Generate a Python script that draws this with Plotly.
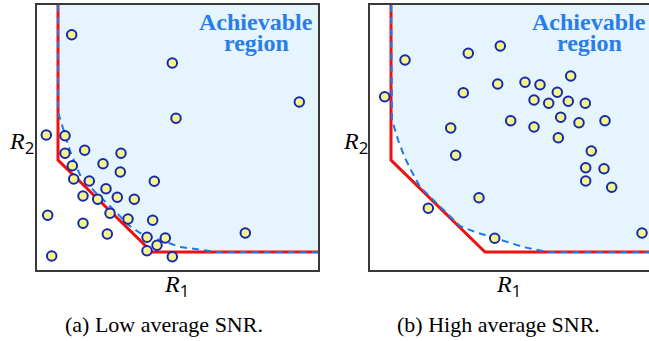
import plotly.graph_objects as go

W, H = 649, 341


def px(x):
    return x / W


def py(y):
    return (H - y) / H


# ---- data (axis units: R1 horizontal, R2 vertical) ----
low_r1 = [34.7, 135.3, 262.3, 139.0, 9.3, 28.0, 28.0, 47.7, 84.0, 35.3, 66.0, 83.3, 36.7, 52.3, 117.3,
          69.0, 46.0, 60.7, 80.3, 97.3, 73.0, 10.7, 46.0, 91.0, 115.7, 70.3, 208.3, 110.0, 128.3, 120.0,
          110.0, 14.7, 135.3]
low_r2 = [235.3, 207.0, 168.0, 151.7, 135.0, 134.3, 116.7, 119.7, 116.7, 104.3, 106.3, 98.0, 91.0, 89.0, 88.7,
          81.3, 74.0, 70.7, 72.7, 70.7, 56.7, 54.7, 46.7, 51.0, 49.7, 36.0, 37.0, 32.7, 32.0, 24.7,
          19.3, 14.0, 13.3]

high_r1 = [35.0, 98.3, 130.3, 14.7, 93.3, 127.7, 155.0, 170.0, 200.7, 187.3, 164.0, 178.7, 198.3, 215.3,
           80.7, 140.7, 164.0, 190.7, 209.0, 235.0, 188.3, 85.7, 221.3, 215.7, 234.0, 215.7, 241.7,
           109.0, 58.3, 124.7, 272.0]
high_r2 = [210.0, 216.7, 224.0, 173.3, 177.3, 186.0, 187.7, 185.3, 194.0, 177.7, 170.0, 166.7, 168.7, 166.7,
           142.0, 149.3, 143.0, 152.7, 147.3, 149.3, 132.3, 114.7, 119.0, 102.3, 101.3, 89.0, 82.7,
           72.3, 61.7, 31.7, 37.0]

# red piecewise-linear boundary
low_red_r1 = [21, 21, 115, 281]
low_red_r2 = [265, 110, 18, 18]
high_red_r1 = [21, 21, 115, 279]
high_red_r2 = [265, 110, 18, 18]

# blue dashed boundary of the achievable region
low_dash_r1 = [21, 21, 25, 33, 43, 58, 80, 90, 103, 120, 143, 166, 178, 281]
low_dash_r2 = [265, 158, 145, 119, 95, 78, 57, 46, 37, 31, 23, 20, 18, 18]
high_dash_r1 = [21, 22, 28, 35, 42, 50, 90, 105, 125, 153, 177, 279]
high_dash_r2 = [265, 150, 130, 112, 98, 83, 44, 38, 32, 23, 18, 18]

RED = "#f01010"
BLUE = "#1f78e6"
FILL = "#e5f4fd"
PT_FILL = "#f5f58c"
PT_LINE = "#1428b0"

fig = go.Figure()

panels = [
    ("x", "y", low_r1, low_r2, low_red_r1, low_red_r2, low_dash_r1, low_dash_r2, 281),
    ("x2", "y2", high_r1, high_r2, high_red_r1, high_red_r2, high_dash_r1, high_dash_r2, 279),
]
for xa, ya, pr1, pr2, rr1, rr2, dr1, dr2, xmax in panels:
    fig.add_trace(go.Scatter(x=dr1 + [xmax, xmax], y=dr2 + [265, 265], mode="lines",
                             fill="toself", fillcolor=FILL, line=dict(width=0),
                             xaxis=xa, yaxis=ya, hoverinfo="skip"))
    fig.add_trace(go.Scatter(x=rr1, y=rr2, mode="lines", line=dict(color=RED, width=3),
                             xaxis=xa, yaxis=ya))
    fig.add_trace(go.Scatter(x=dr1, y=dr2, mode="lines",
                             line=dict(color=BLUE, width=2, dash="7px,5px"),
                             xaxis=xa, yaxis=ya))
    fig.add_trace(go.Scatter(x=pr1, y=pr2, mode="markers",
                             marker=dict(size=9.5, color=PT_FILL, line=dict(color=PT_LINE, width=2)),
                             xaxis=xa, yaxis=ya))

axcommon = dict(showticklabels=False, showgrid=False, zeroline=False, ticks="",
                showline=True, linecolor="#3a3a3a", linewidth=1.5)
ydom = [py(270), py(5)]
fig.update_layout(
    width=W, height=H, margin=dict(l=0, r=0, t=0, b=0),
    paper_bgcolor="white", plot_bgcolor="white", showlegend=False,
    xaxis=dict(domain=[px(37), px(318)], range=[0, 281], mirror=True, **axcommon),
    yaxis=dict(domain=ydom, range=[0, 265], mirror=True, anchor="x", **axcommon),
    xaxis2=dict(domain=[px(370), 1], range=[0, 279], mirror=True, anchor="y2", **axcommon),
    yaxis2=dict(domain=ydom, range=[0, 265], mirror=False, anchor="x2", **axcommon),
)

ann_font = dict(family="Liberation Serif", size=24, color="#2a7de6")
r_font = dict(family="Liberation Serif", size=24, color="black")
sub = '<span style="font-family:Open Sans;font-style:normal">{}</span>'
annotations = []
for xr, yr in (("x", "y"), ("x2", "y2")):
    annotations.append(dict(x=219, y=248, xref=xr, yref=yr, text="<b>Achievable</b>",
                            showarrow=False, font=ann_font, xanchor="center", yanchor="middle"))
    annotations.append(dict(x=219, y=227, xref=xr, yref=yr, text="<b>region</b>",
                            showarrow=False, font=ann_font, xanchor="center", yanchor="middle"))
for xc in (21, 355):
    annotations.append(dict(x=px(xc), y=py(143), xref="paper", yref="paper",
                            text="<i>R</i><sub>" + sub.format("2") + "</sub>",
                            showarrow=False, font=r_font, xanchor="center", yanchor="middle"))
for xc in (176, 508):
    annotations.append(dict(x=px(xc), y=py(286), xref="paper", yref="paper",
                            text="<i>R</i><sub>" + sub.format("1") + "</sub>",
                            showarrow=False, font=r_font, xanchor="center", yanchor="middle"))
cap_font = dict(family="Liberation Serif", size=22, color="black")
for xc, txt in ((164, "(a) Low average SNR."), (498, "(b) High average SNR.")):
    annotations.append(dict(x=px(xc), y=py(324), xref="paper", yref="paper", text=txt,
                            showarrow=False, font=cap_font, xanchor="center", yanchor="middle"))
fig.update_layout(annotations=annotations)

fig.write_html("out.html", config={"displayModeBar": False},
               post_script="document.body.style.margin='0';")
